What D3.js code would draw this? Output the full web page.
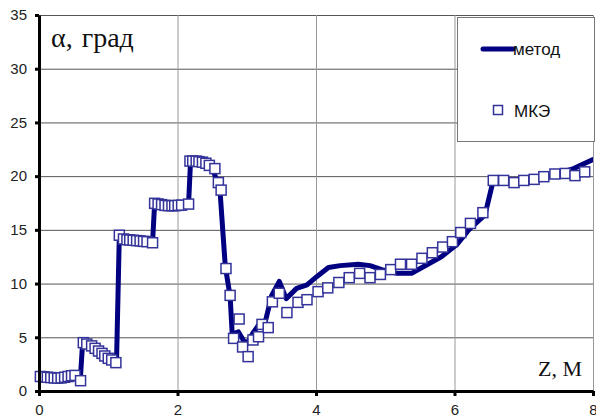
<!DOCTYPE html>
<html>
<head>
<meta charset="utf-8">
<script src="https://cdn.jsdelivr.net/npm/d3@7"></script>
<style>
  html, body { margin: 0; padding: 0; background: #fff; }
  svg { display: block; }
</style>
</head>
<body>
<svg id="chart" width="596" height="417"></svg>
<script>
// Angle alpha (degrees) along coordinate z (m): analytical method vs FEM (МКЭ)
const methodZ = [0, 0.1, 0.25, 0.4, 0.55, 0.6, 0.63, 0.8, 1.0, 1.12, 1.16, 1.3, 1.5, 1.64,
  1.67, 1.8, 2.0, 2.16, 2.19, 2.3, 2.4, 2.52, 2.61, 2.69, 2.76, 2.79, 2.88, 2.99, 3.09,
  3.2, 3.27, 3.36, 3.47, 3.57, 3.72, 3.87, 4.01, 4.18, 4.35, 4.61, 4.78, 4.95, 5.17, 5.38,
  5.55, 5.81, 6.03, 6.22, 6.44, 6.56, 6.85, 7.33, 7.72, 8.0];
const methodAlpha = [1.4, 1.35, 1.25, 1.3, 1.45, 1.45, 4.5, 4.0, 3.2, 2.9, 14.5, 14.1, 13.95, 13.85,
  17.5, 17.3, 17.3, 17.45, 21.6, 21.5, 21.2, 20.4, 19.0, 11.6, 8.8, 5.3, 5.5, 4.3, 5.4,
  6.4, 6.5, 8.9, 10.2, 8.6, 9.55, 9.87, 10.64, 11.5, 11.67, 11.8, 11.67, 11.3, 10.95, 10.95,
  11.57, 12.5, 13.6, 15.1, 16.4, 19.6, 19.5, 19.95, 20.7, 21.55];

const femZ = [0.02, 0.07, 0.12, 0.17, 0.22, 0.27, 0.32, 0.37, 0.42, 0.47, 0.52, 0.6,
  0.64, 0.69, 0.76, 0.81, 0.86, 0.91, 0.95, 1.0, 1.05, 1.11,
  1.16, 1.22, 1.27, 1.31, 1.36, 1.41, 1.46, 1.51, 1.56, 1.64,
  1.67, 1.72, 1.77, 1.82, 1.87, 1.92, 1.96, 2.01, 2.06, 2.16,
  2.18, 2.22, 2.27, 2.31, 2.36, 2.41, 2.46, 2.54, 2.59, 2.63,
  2.70, 2.76, 2.89, 2.81, 2.94, 3.02, 3.09, 3.17, 3.22, 3.31, 3.37, 3.47, 3.58, 3.74,
  3.87, 4.03, 4.17, 4.33, 4.48, 4.63, 4.78, 4.93, 5.08, 5.22, 5.38, 5.53, 5.68, 5.83,
  5.97, 6.09, 6.23, 6.41, 6.56, 6.71, 6.86, 7.00, 7.15, 7.29, 7.45, 7.60, 7.74, 7.88];
const femAlpha = [1.35, 1.32, 1.28, 1.25, 1.22, 1.2, 1.22, 1.28, 1.35, 1.42, 1.45, 0.96,
  4.5, 4.37, 4.2, 3.97, 3.72, 3.5, 3.26, 3.04, 2.89, 2.64,
  14.5, 14.15, 14.08, 14.06, 14.03, 14.0, 13.97, 13.93, 13.9, 13.8,
  17.47, 17.41, 17.35, 17.28, 17.25, 17.25, 17.25, 17.28, 17.3, 17.4,
  21.4, 21.4, 21.4, 21.35, 21.3, 21.2, 21.0, 20.7, 19.4, 18.7,
  11.4, 8.9, 6.7, 4.9, 4.1, 3.2, 4.75, 5.05, 6.2, 5.9, 8.3, 9.1, 7.3, 8.25,
  8.5, 9.25, 9.6, 10.1, 10.55, 10.95, 10.55, 10.85, 11.3, 11.8, 11.8, 12.35, 12.87, 13.4,
  13.9, 14.75, 15.6, 16.6, 19.6, 19.6, 19.4, 19.6, 19.7, 19.95, 20.2, 20.25, 20.05, 20.4];

const xTicks = [0, 2, 4, 6, 8];
const yTicks = [0, 5, 10, 15, 20, 25, 30, 35];
const seriesNames = ["метод", "МКЭ"];

const svg = d3.select("#chart");
const plotL = 39, plotR = 593, plotT = 15, plotB = 391;

const x = d3.scaleLinear().domain([0, 8]).range([plotL, plotR]);
const y = d3.scaleLinear().domain([0, 35]).range([plotB, plotT]);

const navy = "#000080";
const markerBlue = "#333399";

// grid
svg.append("g").selectAll("line").data(yTicks.filter(d => d > 0)).join("line")
  .attr("x1", plotL).attr("x2", plotR)
  .attr("y1", d => y(d) + 0.5).attr("y2", d => y(d) + 0.5)
  .attr("stroke", "#555").attr("stroke-width", 1);
svg.append("g").selectAll("line").data(xTicks.filter(d => d > 0)).join("line")
  .attr("x1", d => x(d) + 0.5).attr("x2", d => x(d) + 0.5)
  .attr("y1", plotT).attr("y2", plotB)
  .attr("stroke", "#999").attr("stroke-width", 1);

// clip so the curve ends at the frame
svg.append("defs").append("clipPath").attr("id", "plotClip")
  .append("rect").attr("x", plotL).attr("y", plotT).attr("width", plotR - plotL).attr("height", plotB - plotT);

const line = d3.line().x(d => x(d[0])).y(d => y(d[1]));
const methodPts = methodZ.map((z, i) => [z, methodAlpha[i]]);
svg.append("path")
  .attr("clip-path", "url(#plotClip)")
  .attr("d", line(methodPts))
  .attr("fill", "none").attr("stroke", navy)
  .attr("stroke-width", 5).attr("stroke-linejoin", "round").attr("stroke-linecap", "round");

// FEM markers
const s = 10;
svg.append("g").selectAll("rect").data(femZ.map((z, i) => [z, femAlpha[i]])).join("rect")
  .attr("x", d => x(d[0]) - s / 2).attr("y", d => y(d[1]) - s / 2)
  .attr("width", s).attr("height", s)
  .attr("fill", "#fff").attr("stroke", markerBlue).attr("stroke-width", 1.5);

// axes
const yAxis = d3.axisLeft(y).tickValues(yTicks).tickSizeInner(4).tickSizeOuter(0).tickPadding(8);
const gy = svg.append("g").attr("transform", `translate(${plotL},0)`).call(yAxis);
const xAxis = d3.axisBottom(x).tickValues(xTicks).tickSizeInner(5).tickSizeOuter(0).tickPadding(8);
const gx = svg.append("g").attr("transform", `translate(0,${plotB})`).call(xAxis);
[gx, gy].forEach(g => {
  g.select(".domain").attr("stroke", "#000").attr("stroke-width", 3);
  g.selectAll(".tick line").attr("stroke", "#000").attr("stroke-width", 3);
  g.selectAll(".tick text").attr("fill", "#222")
    .style("font-family", "'Liberation Sans', Arial, sans-serif").style("font-size", "15px");
});

// axis titles
const serif = "'Liberation Serif', 'Times New Roman', serif";
const yTitle = svg.append("text").attr("x", 51).attr("y", 47)
  .style("font-family", serif).style("font-size", "28px").attr("fill", "#111");
yTitle.append("tspan").text("α,");
yTitle.append("tspan").attr("dx", 9).text("град");
svg.append("text").attr("x", 582).attr("y", 376).attr("text-anchor", "end")
  .style("font-family", serif).style("font-size", "22px")
  .attr("fill", "#111").text("Z, М");

// legend
const lg = svg.append("g");
lg.append("rect").attr("x", 457.5).attr("y", 17.5).attr("width", 137).attr("height", 124)
  .attr("fill", "#fff").attr("stroke", "#777").attr("stroke-width", 1);
lg.append("line").attr("x1", 483).attr("x2", 513).attr("y1", 49).attr("y2", 49)
  .attr("stroke", navy).attr("stroke-width", 5).attr("stroke-linecap", "round");
lg.append("text").attr("x", 513).attr("y", 55).text(seriesNames[0])
  .style("font-family", "'Liberation Sans', Arial, sans-serif").style("font-size", "17px").attr("fill", "#111");
lg.append("rect").attr("x", 493.5).attr("y", 105.5).attr("width", 9).attr("height", 9)
  .attr("fill", "#fff").attr("stroke", markerBlue).attr("stroke-width", 1.5);
lg.append("text").attr("x", 514).attr("y", 117).text(seriesNames[1])
  .style("font-family", "'Liberation Sans', Arial, sans-serif").style("font-size", "17px").attr("fill", "#111");
</script>
</body>
</html>
